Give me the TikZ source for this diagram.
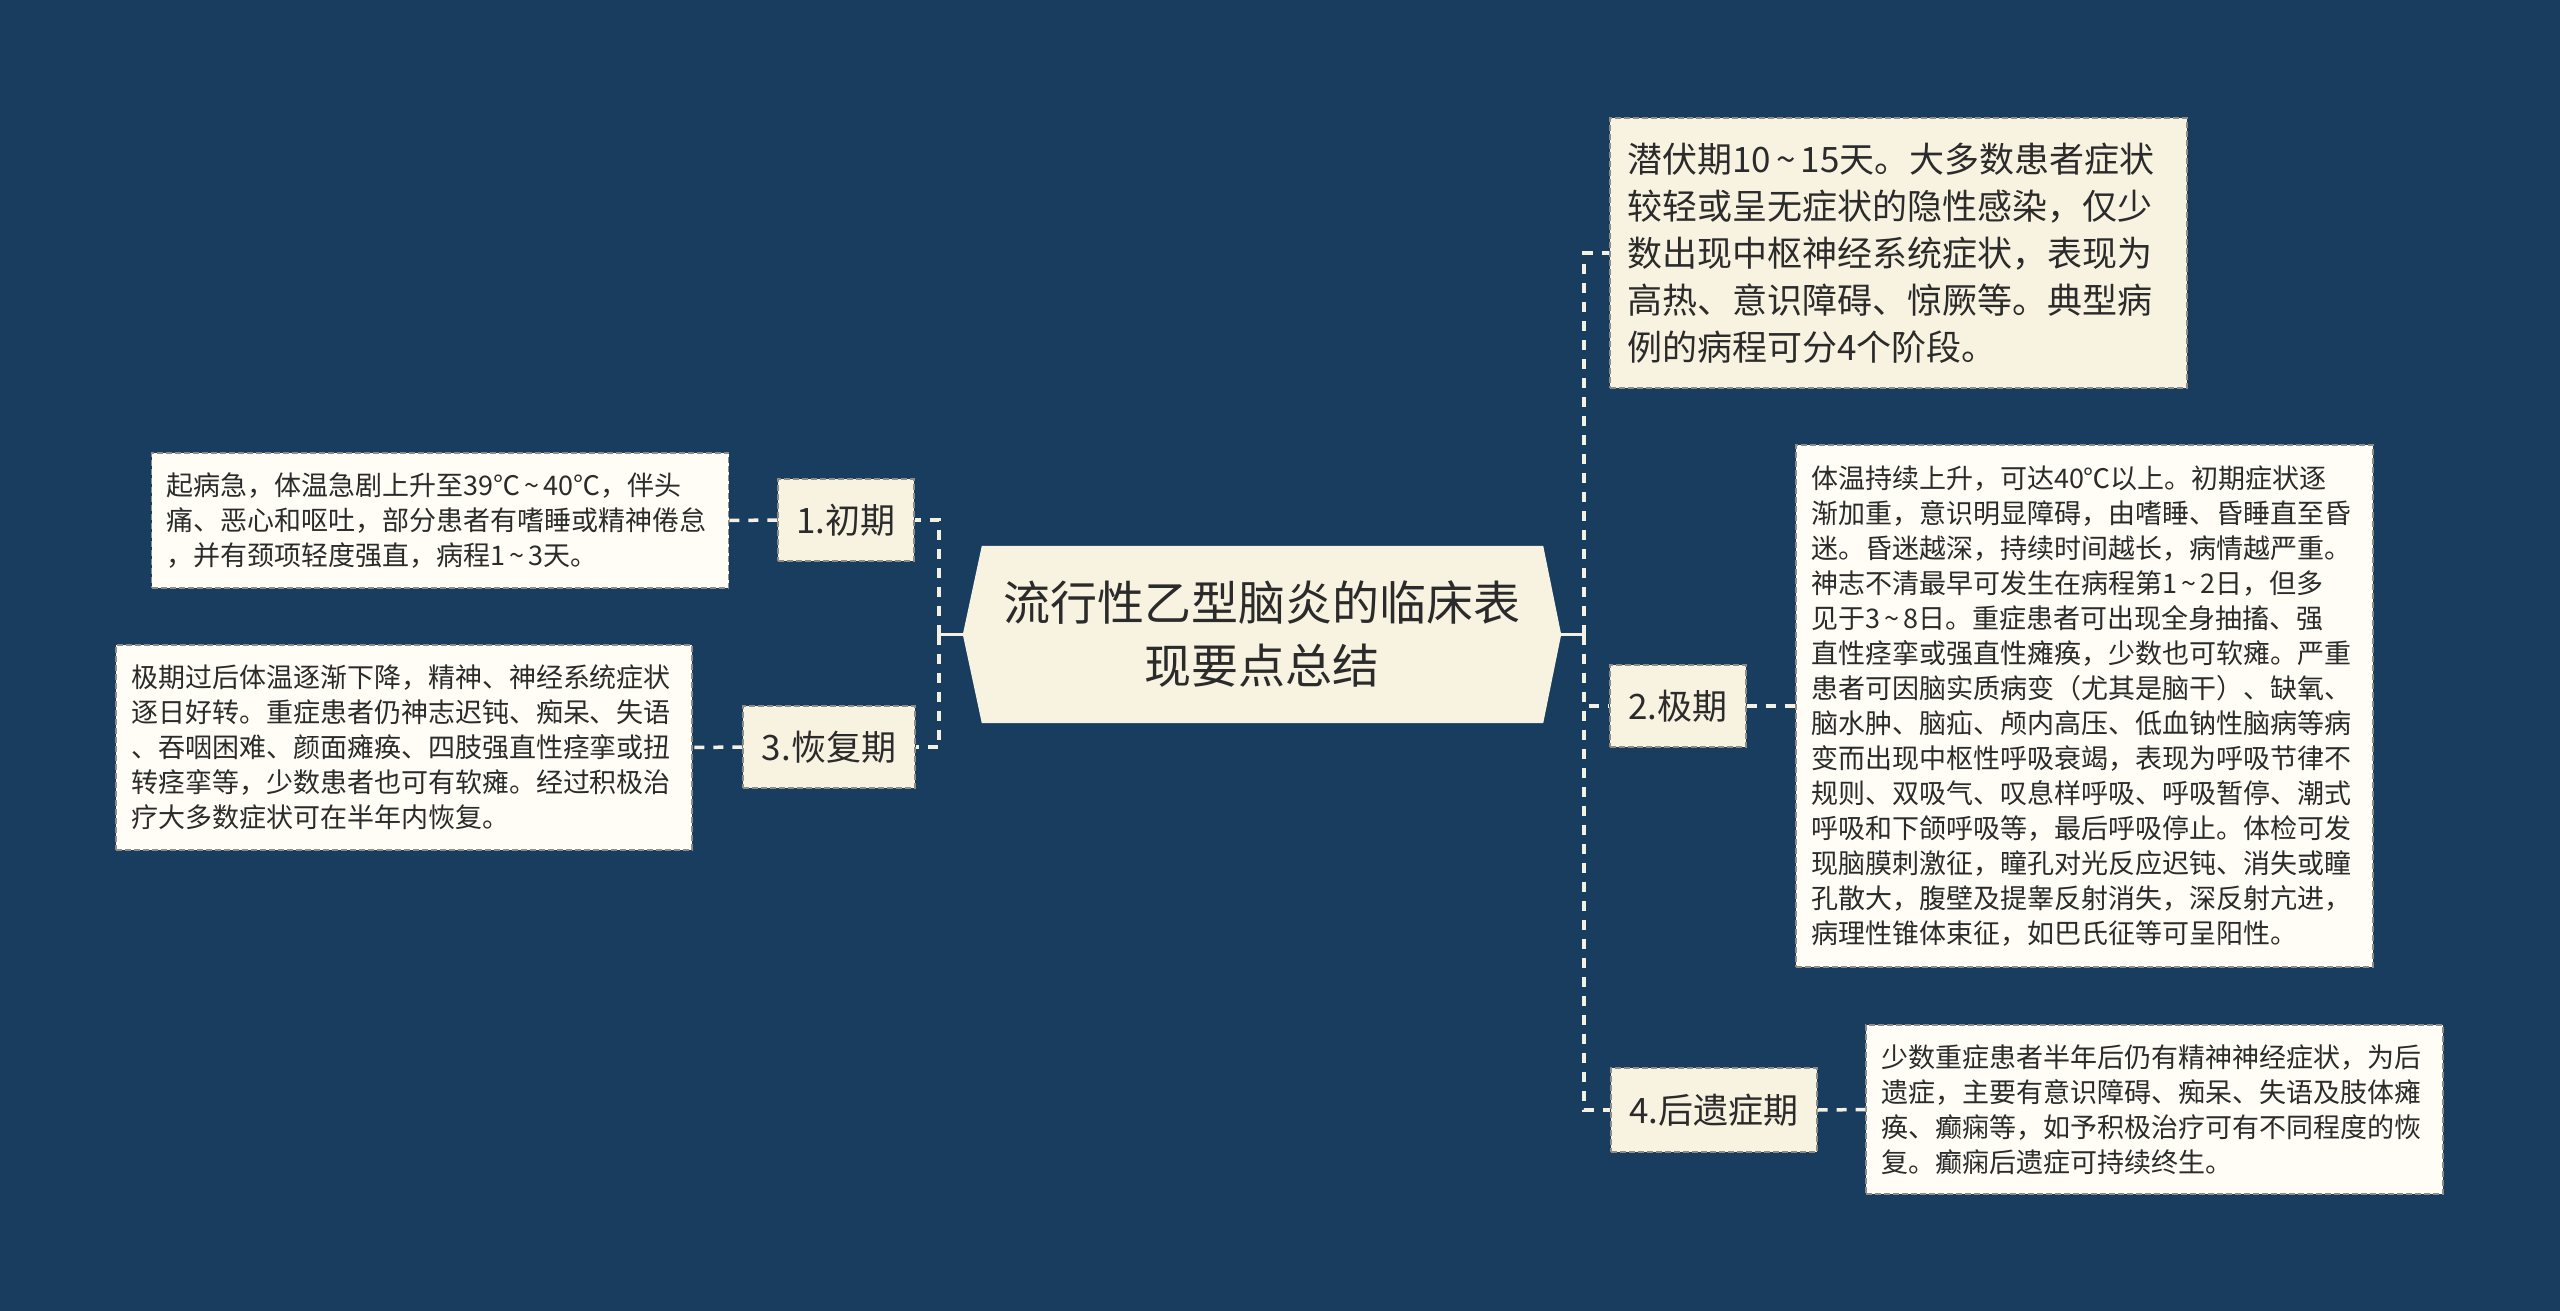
\documentclass[tikz,border=0pt]{standalone}
\usepackage{fontspec}
\setmainfont{Noto Sans CJK SC}
\usetikzlibrary{backgrounds}
\definecolor{bg}{HTML}{183D5E}
\definecolor{linec}{HTML}{F4F0E2}
\definecolor{cream}{HTML}{F8F3E1}
\definecolor{paper}{HTML}{FFFDF6}
\definecolor{ink}{HTML}{2B2B2B}
\definecolor{edge}{HTML}{8E8C84}
\newcommand{\tld}{\kern0.15em\textasciitilde\kern0.15em}
\tikzset{
  conn/.style={draw=linec, line width=3.5pt, dash pattern=on 10pt off 9pt},
  rootconn/.style={draw=linec, line width=3.5pt},
  topicbox/.style={rectangle, fill=cream, draw=edge, line width=1.2pt, dash pattern=on 6pt off 3pt, text=ink, font=\fontsize{35pt}{47pt}\selectfont, inner sep=0pt, align=center},
  bigbox/.style={rectangle, fill=cream, draw=edge, line width=1.2pt, dash pattern=on 6pt off 3pt, text=ink, font=\fontsize{35pt}{47pt}\selectfont, inner xsep=17pt, inner ysep=0pt, align=left},
  detailbox/.style={rectangle, fill=paper, draw=edge, line width=1.2pt, dash pattern=on 6pt off 3pt, text=ink, font=\fontsize{27pt}{35pt}\selectfont, inner xsep=15pt, inner ysep=0pt, align=left},
  rootnode/.style={rectangle, draw=none, text=ink, font=\fontsize{47pt}{63pt}\selectfont, inner sep=0pt, align=center, minimum width=598pt, minimum height=177pt},
}
\begin{document}
\begin{tikzpicture}[x=1pt,y=-1pt]
\useasboundingbox (0,0) rectangle (2560,1311);
\begin{scope}[on background layer]
\fill[bg] (0,0) rectangle (2560,1311);
\end{scope}

% central topic
\node[rootnode] (root) at (1262,634.5) {流行性乙型脑炎的临床表\\现要点总结};
\begin{scope}[on background layer]
\fill[cream] (root.west) -- ([xshift=19pt]root.north west) -- ([xshift=-18pt]root.north east) -- (root.east) -- ([xshift=-18pt]root.south east) -- ([xshift=19pt]root.south west) -- cycle;
\end{scope}

% left side
\node[topicbox, minimum width=136pt, minimum height=82pt] (n1) at (846,520) {1.初期};
\node[topicbox, minimum width=172pt, minimum height=82pt] (n3) at (829,747) {3.恢复期};
\node[detailbox, text width=547pt, minimum height=135pt] (d1) at (440,520.5) {起病急，体温急剧上升至39℃\tld 40℃，伴头\\痛、恶心和呕吐，部分患者有嗜睡或精神倦怠\\，并有颈项轻度强直，病程1\tld 3天。};
\node[detailbox, text width=546pt, minimum height=205pt] (d3) at (404,747.5) {极期过后体温逐渐下降，精神、神经系统症状\\逐日好转。重症患者仍神志迟钝、痴呆、失语\\、吞咽困难、颜面瘫痪、四肢强直性痉挛或扭\\转痉挛等，少数患者也可有软瘫。经过积极治\\疗大多数症状可在半年内恢复。};

% right side
\node[bigbox, text width=543pt, minimum height=270pt] (A) at (1898.5,253) {潜伏期10\tld 15天。大多数患者症状\\较轻或呈无症状的隐性感染，仅少\\数出现中枢神经系统症状，表现为\\高热、意识障碍、惊厥等。典型病\\例的病程可分4个阶段。};
\node[topicbox, minimum width=136pt, minimum height=82pt] (n2) at (1678,706) {2.极期};
\node[topicbox, minimum width=206pt, minimum height=84pt] (n4) at (1714,1110) {4.后遗症期};
\node[detailbox, text width=547pt, minimum height=522pt] (d2) at (2084.5,706) {体温持续上升，可达40℃以上。初期症状逐\\渐加重，意识明显障碍，由嗜睡、昏睡直至昏\\迷。昏迷越深，持续时间越长，病情越严重。\\神志不清最早可发生在病程第1\tld 2日，但多\\见于3\tld 8日。重症患者可出现全身抽搐、强\\直性痉挛或强直性瘫痪，少数也可软瘫。严重\\患者可因脑实质病变（尤其是脑干）、缺氧、\\脑水肿、脑疝、颅内高压、低血钠性脑病等病\\变而出现中枢性呼吸衰竭，表现为呼吸节律不\\规则、双吸气、叹息样呼吸、呼吸暂停、潮式\\呼吸和下颌呼吸等，最后呼吸停止。体检可发\\现脑膜刺激征，瞳孔对光反应迟钝、消失或瞳\\孔散大，腹壁及提睾反射消失，深反射亢进，\\病理性锥体束征，如巴氏征等可呈阳性。};
\node[detailbox, text width=547pt, minimum height=169pt] (d4) at (2154.5,1109.5) {少数重症患者半年后仍有精神神经症状，为后\\遗症，主要有意识障碍、痴呆、失语及肢体瘫\\痪、癫痫等，如予积极治疗可有不同程度的恢\\复。癫痫后遗症可持续终生。};

% connectors
\coordinate (ls) at (939,634.5);
\coordinate (rs) at (1584,634.5);
\draw[rootconn] (root.west) -- (ls);
\draw[rootconn] (root.east) -- (rs);
\draw[conn] (ls) |- (n1.east);
\draw[conn] (ls) |- (n3.east);
\draw[conn] (rs) |- (A.west);
\draw[conn] (rs) |- (n2.west);
\draw[conn] (rs) |- (n4.west);
\draw[conn] (n1.west) -- (d1.east);
\draw[conn] (n3.west) -- (d3.east);
\draw[conn] (n2.east) -- (d2.west);
\draw[conn] (n4.east) -- (d4.west);
\end{tikzpicture}
\end{document}
